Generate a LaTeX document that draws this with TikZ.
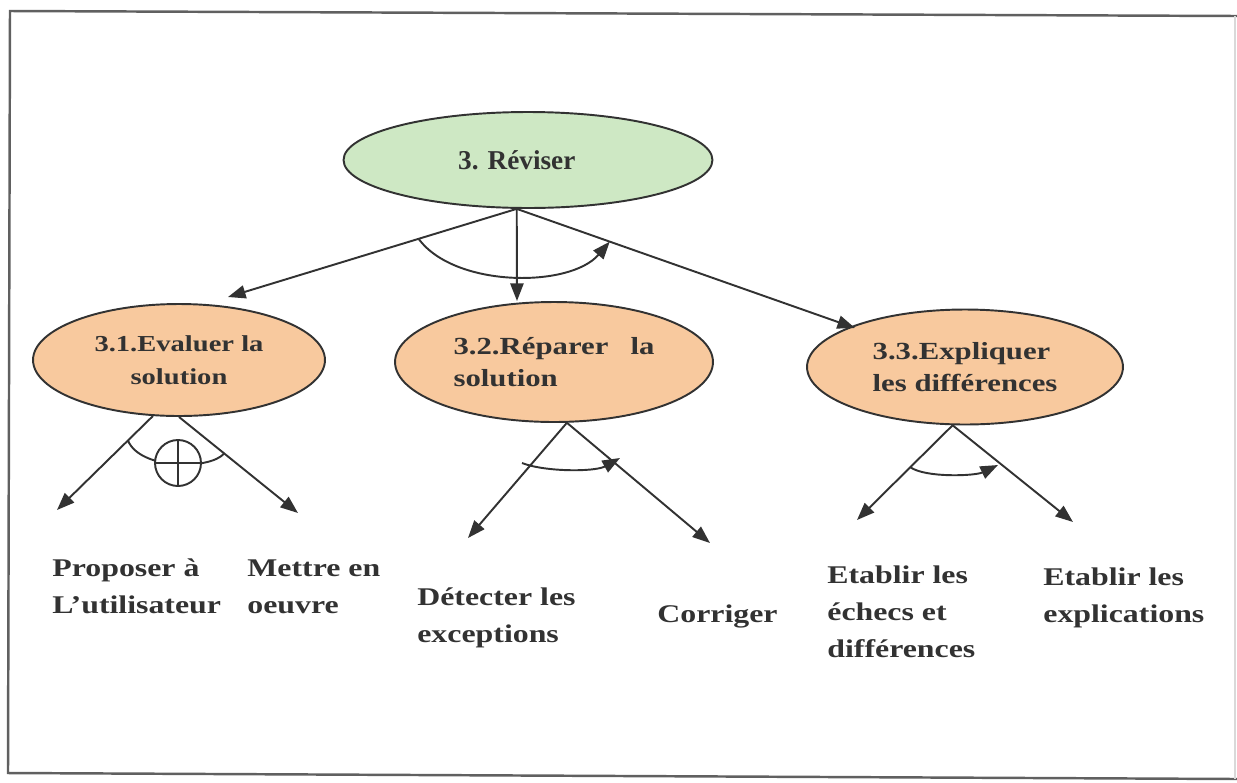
\documentclass[tikz,border=0pt]{standalone}
\usepackage{fontspec}
\setmainfont{Liberation Serif}
\newfontfamily\widefont[FakeStretch=1.25]{Liberation Serif}
\usetikzlibrary{shapes.geometric,arrows.meta,calc}
\usepackage{xcolor}
\definecolor{revgreen}{RGB}{206,232,196}
\definecolor{revorange}{RGB}{248,201,158}
\definecolor{ink}{RGB}{50,50,50}

\tikzset{
  task/.style={ellipse,draw=ink,line width=1.1pt,inner sep=0pt,text=ink},
  maintask/.style={task,fill=revgreen,minimum width=7.38cm,minimum height=1.92cm,
    font=\bfseries\fontsize{15.5}{18}\selectfont},
  subtask/.style={task,fill=revorange,font=\widefont\bfseries\fontsize{14}{18.5}\selectfont},
  leaf/.style={anchor=base west,align=left,inner sep=0pt,text=ink,
    font=\widefont\bfseries\fontsize{14.5}{21}\selectfont},
  link/.style={draw=ink,line width=1.1pt,-{Triangle[length=10pt,width=7.5pt]}},
  turn/.style={draw=ink,line width=1.1pt},
}

\begin{document}
\begin{tikzpicture}[x=0.02cm,y=-0.02cm]
        \useasboundingbox (0,0) rectangle (1237,782);
        \draw[gray!75!black,line width=1.4pt] (1237,16) -- (10,11) -- (8,773) -- (1237,779);
        \draw[gray!30,line width=0.8pt] (1235,16) -- (1235,779);

        \node[maintask] (rev) at (528,160) {3. Réviser\hspace*{0.45cm}};
        \node[subtask,minimum width=5.84cm,minimum height=2.24cm,
              font=\widefont\bfseries\fontsize{13}{18.5}\selectfont,align=center] (eval) at (179,360) {3.1.Evaluer la\\solution};
        \node[subtask,minimum width=6.36cm,minimum height=2.4cm,align=left] (rep) at (554,362) {3.2.Réparer\hspace{0.9em}la\\solution};
        \node[subtask,minimum width=6.32cm,minimum height=2.3cm,align=left] (expl) at (965,367) {3.3.Expliquer\\les différences};

        \coordinate (to31) at (228,297);
        \coordinate (to32) at (517,301);
        \coordinate (to33) at (855,328);
        \draw[link] (rev.257) -- (to31);
        \draw[link] (rev.257) -- (to32);
        \draw[link] (rev.257) -- (to33);
        \draw[turn,-{Triangle[length=10pt,width=7.5pt]}] ($(rev.257)!0.34!(to31)$) .. controls (455,288) and (570,288) .. ($(rev.257)!0.275!(to33)$);

        \coordinate (prop) at (57,510);
        \coordinate (mettre) at (298,513);
        \draw[link] (eval.245) -- (prop);
        \draw[link] (eval.south) -- (mettre);
        \draw[turn] ($(eval.245)!0.26!(prop)$) .. controls (140,470) and (210,470) .. ($(eval.south)!0.38!(mettre)$);
        \node[circle,draw=ink,line width=1.1pt,fill=white,minimum size=0.92cm,inner sep=0pt] (orsym) at (178,463) {};
        \draw[turn] (orsym.north) -- (orsym.south) (orsym.west) -- (orsym.east);

        \coordinate (detect) at (468,538);
        \coordinate (corr) at (710,543);
        \draw[link] (rep.282) -- (detect);
        \draw[link] (rep.282) -- (corr);
        \draw[turn,-{Triangle[length=10pt,width=7.5pt]}] (522,463) .. controls (545,472) and (595,472) .. (620,458);

        \coordinate (echec) at (857,520);
        \coordinate (explic) at (1073,522);
        \draw[link] (expl.258) -- (echec);
        \draw[link] (expl.258) -- (explic);
        \draw[turn,-{Triangle[length=10pt,width=7.5pt]}] (910,467) .. controls (925,478) and (975,476) .. (998,465);

        \node[leaf] (l1) at (52,613) {Proposer à\\L’utilisateur};
        \node[leaf] (l2) at (247,613) {Mettre en\\oeuvre};
        \node[leaf] (l3) at (417,642) {Détecter les\\exceptions};
        \node[leaf] (l4) at (657,622) {Corriger};
        \node[leaf] (l5) at (827,657) {Etablir les\\échecs et\\différences};
        \node[leaf] (l6) at (1043,622) {Etablir les\\explications};
      \end{tikzpicture}
\end{document}
